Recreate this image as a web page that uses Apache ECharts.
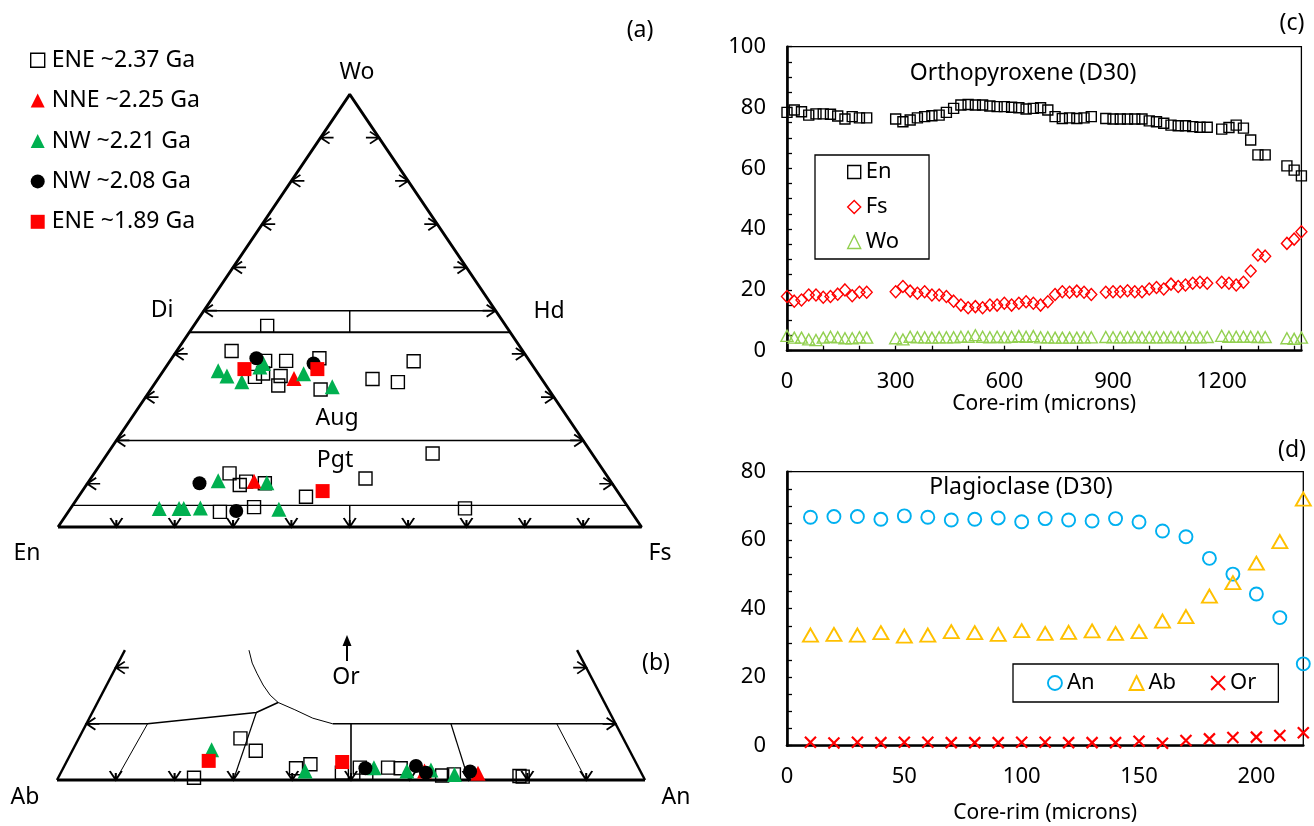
<!DOCTYPE html>
<html><head><meta charset="utf-8">
<script src="https://cdn.jsdelivr.net/npm/echarts@6/dist/echarts.min.js"></script>
<style>html,body{margin:0;padding:0;background:#fff}#c{width:1314px;height:826px}</style>
</head><body><div id="c"></div>
<script>
// ---------- Panel (a): pyroxene compositions, [Wo, Fs] mol% (En = 100 - Wo - Fs)
const pxENE237 = [[46.5,12.6],[40.7,9.4],[38.4,16.3],[38.4,19.9],[39.0,25.3],[34.7,16.4],[35.5,17.4],[34.9,20.7],[32.7,21.4],[31.8,29.1],[34.2,36.8],[33.5,41.5],[38.3,41.8],[17.0,55.7],[12.4,23.2],[9.7,26.3],[10.5,27.0],[10.1,30.4],[11.2,47.1],[7.0,39.0],[3.5,26.0],[4.6,31.3],[4.3,67.6]];
const pxNNE225 = [[34.3,23.3],[10.6,28.3]];
const pxNW221 = [[36.1,9.4],[34.9,11.5],[33.6,14.7],[37.0,16.1],[37.8,16.3],[35.4,24.4],[32.4,30.8],[10.7,22.1],[10.2,30.7],[4.3,15.2],[4.3,18.6],[4.3,19.4],[4.4,22.2],[4.1,35.8]];
const pxNW208 = [[39.0,14.5],[37.8,24.9],[10.1,19.2],[3.7,28.7]];
const pxENE189 = [[36.5,13.7],[36.5,26.2],[8.3,41.2]];

// ---------- Panel (b): feldspar compositions, [An, Or] mol% (Ab = 100 - An - Or)
const fsENE237 = [[27.5,7.4],[31.2,5.2],[23.1,0.4],[39.6,2.1],[41.7,2.8],[47.8,1.3],[50.4,2.2],[52.0,1.2],[55.2,2.2],[57.4,2.1],[65.1,0.8],[67.0,1.0],[78.3,0.7],[78.9,0.6]];
const fsNNE225 = [[61.7,1.6],[71.0,1.2]];
const fsNW221 = [[23.6,5.4],[41.4,1.6],[52.8,2.2],[58.7,1.6],[62.7,1.8],[67.1,1.0]];
const fsNW208 = [[51.4,2.1],[59.8,2.5],[62.1,1.3],[69.5,1.5]];
const fsENE189 = [[24.1,3.4],[46.9,3.2]];

const groupNames = ['ENE ~2.37 Ga','NNE ~2.25 Ga','NW ~2.21 Ga','NW ~2.08 Ga','ENE ~1.89 Ga'];

// ---------- Panel (c): orthopyroxene profile (D30)
const opxDist = [0,20,40,60,80,100,120,140,160,180,200,220,
  300,320,340,360,380,400,420,440,460,480,500,520,540,560,580,600,620,640,660,680,700,720,740,760,780,800,820,840,
  880,900,920,940,960,980,1000,1020,1040,1060,1080,1100,1120,1140,1160,
  1200,1220,1240,1260,1280,1300,1320,
  1380,1400,1420];
const opxEn = [78.4,79.2,78.6,77.5,77.9,77.9,77.8,77.2,76.2,77.0,76.6,76.6,
  76.2,75.3,75.9,76.6,77.0,77.3,77.5,78.4,79.7,80.8,81.0,80.8,80.8,80.5,80.3,80.3,80.1,79.9,79.5,79.7,79.9,79.2,77.0,76.4,76.6,76.4,76.6,77.0,
  76.4,76.2,76.2,76.2,76.2,76.2,75.6,75.3,74.8,74.2,74.0,74.0,73.7,73.5,73.5,
  72.9,73.4,74.2,73.2,69.3,64.4,64.4,
  60.8,59.4,57.5];
const opxFs = [17.8,16.3,16.7,18.3,18.3,17.6,17.8,18.6,20.0,18.1,19.2,19.2,
  19.4,21.1,19.6,18.9,19.4,18.3,18.3,17.8,16.3,15.0,14.1,14.5,14.1,15.0,15.0,15.6,15.0,15.6,16.1,15.6,15.0,16.1,18.5,19.4,19.2,19.6,19.2,18.5,
  19.2,19.4,19.4,19.7,19.4,19.4,20.3,20.8,20.3,21.9,21.1,21.6,22.2,22.5,22.2,
  22.5,22.2,21.6,22.5,26.2,31.5,31.1,
  35.3,36.7,39.1];
const opxWo = [4.9,4.3,4.3,3.7,3.5,4.3,4.6,4.4,4.1,4.1,4.4,4.3,
  4.1,3.7,4.6,4.4,4.4,4.3,4.4,4.4,4.4,4.6,4.6,5.1,4.6,4.4,4.6,4.4,4.6,4.8,4.6,4.8,4.4,4.4,4.3,4.3,4.3,4.3,4.4,4.4,
  4.5,4.4,4.4,4.4,4.5,4.4,4.4,4.4,4.4,4.5,4.4,4.4,4.4,4.4,4.5,
  4.9,4.6,4.6,4.6,4.6,4.5,4.5,
  4.1,3.9,4.3];

// ---------- Panel (d): plagioclase profile (D30)
const plDist = [10,20,30,40,50,60,70,80,90,100,110,120,130,140,150,160,170,180,190,200,210,220];
const plAn = [66.7,66.9,66.9,66.1,67.1,66.7,65.9,66.1,66.5,65.4,66.3,65.9,65.6,66.3,65.3,62.7,61.0,54.7,50.1,44.3,37.4,23.9];
const plAb = [32.3,32.5,32.3,33.0,32.0,32.3,33.3,33.0,32.5,33.6,32.8,33.1,33.5,32.8,33.3,36.4,37.7,43.7,47.6,53.3,59.6,72.0];
const plOr = [1.0,0.8,1.0,0.9,1.0,1.0,0.9,0.9,0.9,1.0,1.0,0.9,0.9,0.9,1.3,0.7,1.5,2.0,2.4,2.5,3.0,3.8];

// ---------- ternary frames (classification fields)
const pyxOutline = [[0,0],[0,100],[100,0],[0,0]];            // [Wo, Fs]
const pyxFields = [
  {pts:[[50,0],[50,50]], w:1.4},
  {pts:[[45,0],[45,55]], w:2.0},
  {pts:[[50,25],[45,27.5]], w:1.4},
  {pts:[[20,0],[20,80]], w:1.4},
  {pts:[[5,0],[5,95]], w:1.4},
  {pts:[[5,47.5],[0,50]], w:1.4}
];
const fspOutline = [ {pts:[[0,0],[100,0]], w:2.8}, {pts:[[0,0],[0,23.1]], w:2.4}, {pts:[[100,0],[76.9,23.1]], w:2.4} ]; // [An, Or]
const fspFields = [
  {pts:[[41.9,10],[90,10]], w:1.6},
  {pts:[[0,10],[10.4,10],[27.9,12.0],[30.7,13.8]], w:1.6},
  {pts:[[30.7,13.8],[28.7,15.1],[26.6,16.9],[24.5,19.0],[22.8,20.8],[21.1,23.1]], w:1.0},
  {pts:[[30.7,13.8],[34.2,12.5],[38.0,11.0],[41.9,10]], w:1.0},
  {pts:[[10.4,10],[10,0]], w:1.0},
  {pts:[[27.9,12.0],[30,0]], w:1.2},
  {pts:[[45,10],[50,0]], w:1.6},
  {pts:[[62,10],[70,0]], w:1.2},
  {pts:[[80,10],[90,0]], w:1.0}
];

const pyxXY = p => [p[1] + p[0] / 2, p[0]];
const fspXY = p => [p[0] + p[1] / 2, p[1]];

const FONT = '"Noto Sans","Open Sans",sans-serif';
const series = [];
function lineS(g, pts, w) {
  series.push({type:'line', xAxisIndex:g, yAxisIndex:g, data:pts, symbol:'none', silent:true, clip:false, z:1,
    animation:false, lineStyle:{color:'#000', width:w, opacity:1}});
}
function arrowS(g, pts, sym, size, off) {
  series.push({type:'scatter', xAxisIndex:g, yAxisIndex:g, data:pts, symbol:sym, symbolSize:size, symbolOffset:off,
    silent:true, clip:false, z:1, animation:false,
    itemStyle:{color:'rgba(0,0,0,0)', borderColor:'#000', borderWidth:1.8, opacity:1}});
}
const arrowV = 'path://M0,0L6,9L12,0M6,9L6,2';
const arrowL = 'path://M9,0L0,6L9,12M0,6L13,6';
const arrowR = 'path://M4,0L13,6L4,12M0,6L13,6';

// panel (a) frame
lineS(0, pyxOutline.map(pyxXY), 2.8);
pyxFields.forEach(f => lineS(0, f.pts.map(pyxXY), f.w));
const tens = [10,20,30,40,50,60,70,80,90];
arrowS(0, tens.map(f => pyxXY([0, f])), arrowV, [12, 9], [0, -4.5]);
arrowS(0, tens.map(w => pyxXY([w, 0])), arrowL, [13, 12], [6.5, 0]);
arrowS(0, tens.map(w => pyxXY([w, 100 - w])), arrowR, [13, 12], [-6.5, 0]);
// panel (b) frame
fspOutline.forEach(f => lineS(1, f.pts.map(fspXY), f.w));
fspFields.forEach(f => lineS(1, f.pts.map(fspXY), f.w));
arrowS(1, tens.map(a => fspXY([a, 0])), arrowV, [12, 9], [0, -4.5]);
arrowS(1, [10, 20].map(o => fspXY([0, o])), arrowL, [13, 12], [6.5, 0]);
arrowS(1, [10, 20].map(o => fspXY([100 - o, o])), arrowR, [13, 12], [-6.5, 0]);

// sample groups in (a) and (b)
const pyxGroups = [pxENE237, pxNNE225, pxNW221, pxNW208, pxENE189];
const fspGroups = [fsENE237, fsNNE225, fsNW221, fsNW208, fsENE189];
const groupStyle = [
  {symbol:'rect', size:13, item:{color:'rgba(0,0,0,0)', borderColor:'#000', borderWidth:1.4, opacity:1}},
  {symbol:'triangle', size:15, item:{color:'#FF0000', opacity:1}},
  {symbol:'triangle', size:15, item:{color:'#00B050', opacity:1}},
  {symbol:'circle', size:14, item:{color:'#000000', opacity:1}},
  {symbol:'rect', size:14, item:{color:'#FF0000', opacity:1}}
];
groupNames.forEach((nm, i) => {
  const st = groupStyle[i];
  series.push({type:'scatter', name:nm, xAxisIndex:0, yAxisIndex:0, data:pyxGroups[i].map(pyxXY),
    symbol:st.symbol, symbolSize:st.size, itemStyle:st.item, z:3 + i, animation:false, clip:false});
  series.push({type:'scatter', name:nm, xAxisIndex:1, yAxisIndex:1, data:fspGroups[i].map(fspXY),
    symbol:st.symbol, symbolSize:st.size, itemStyle:st.item, z:3 + i, animation:false, clip:false});
});

// panel (c)
const zipC = arr => opxDist.map((d, i) => [d, arr[i]]);
series.push({type:'scatter', name:'En', xAxisIndex:2, yAxisIndex:2, data:zipC(opxEn), symbol:'rect', symbolSize:10,
  itemStyle:{color:'rgba(0,0,0,0)', borderColor:'#000', borderWidth:1.4, opacity:1}, animation:false, z:3});
series.push({type:'scatter', name:'Fs', xAxisIndex:2, yAxisIndex:2, data:zipC(opxFs), symbol:'diamond', symbolSize:[11, 12],
  itemStyle:{color:'rgba(0,0,0,0)', borderColor:'#FF0000', borderWidth:1.4, opacity:1}, animation:false, z:3});
series.push({type:'scatter', name:'Wo', xAxisIndex:2, yAxisIndex:2, data:zipC(opxWo), symbol:'triangle', symbolSize:[12, 11],
  itemStyle:{color:'rgba(0,0,0,0)', borderColor:'#92D050', borderWidth:1.4, opacity:1}, animation:false, z:3});
// panel (d)
const zipD = arr => plDist.map((d, i) => [d, arr[i]]);
series.push({type:'scatter', name:'An', xAxisIndex:3, yAxisIndex:3, data:zipD(plAn), symbol:'circle', symbolSize:13,
  itemStyle:{color:'rgba(0,0,0,0)', borderColor:'#00B0F0', borderWidth:1.9, opacity:1}, animation:false, z:3});
series.push({type:'scatter', name:'Ab', xAxisIndex:3, yAxisIndex:3, data:zipD(plAb), symbol:'triangle', symbolSize:[15, 13],
  itemStyle:{color:'rgba(0,0,0,0)', borderColor:'#FFC000', borderWidth:1.9, opacity:1}, animation:false, z:3});
series.push({type:'scatter', name:'Or', xAxisIndex:3, yAxisIndex:3, data:zipD(plOr), symbol:'path://M0,0L10,10M10,0L0,10', symbolSize:11,
  itemStyle:{color:'rgba(0,0,0,0)', borderColor:'#FF0000', borderWidth:2.2, opacity:1}, animation:false, z:3});

const axisCommon = (extra) => Object.assign({
  type:'value', splitLine:{show:false},
  axisLine:{show:true, onZero:false, lineStyle:{color:'#000', width:2.6}},
  axisLabel:{color:'#000', fontSize:22, fontFamily:FONT},
  nameTextStyle:{color:'#000', fontSize:21, fontFamily:FONT}
}, extra);

const texts = [
  ['Wo',357,72,23],['Di',162,310,23],['Hd',549,311,23],['Aug',337,418,23],['Pgt',335,460,23],
  ['En',27,553,23],['Fs',660,553,23],['(a)',640,30,23],
  ['(b)',656,663,23],['Or',346,677,23],['Ab',25,797,23],['An',676,797,23],
  ['(c)',1292,23,23],['(d)',1292,450,23],
  ['Orthopyroxene (D30)',1023,73,23],['Plagioclase (D30)',1021,487,23]
];
const graphic = texts.map(t => ({type:'text', x:t[1], y:t[2], silent:true, z:10,
  style:{text:t[0], font:t[3] + 'px ' + FONT, fill:'#000', align:'center', verticalAlign:'middle', textAlign:'center', textVerticalAlign:'middle'}}));
graphic.push({type:'line', silent:true, shape:{x1:347, y1:661, x2:347, y2:644}, style:{stroke:'#000', lineWidth:2}});
graphic.push({type:'polygon', silent:true, shape:{points:[[342.5,646],[347,635],[351.5,646]]}, style:{fill:'#000'}});

const option = {
  animation:false,
  backgroundColor:'#fff',
  textStyle:{fontFamily:FONT, color:'#000'},
  grid:[
    {left:58, top:94.4, width:583.5, height:432.6, show:false},
    {left:57, top:639.5, width:588, height:140.5, show:false},
    {left:787, top:46.7, width:514.4, height:304, show:true, borderColor:'#000', borderWidth:1.3, containLabel:false},
    {left:787, top:471.7, width:516.3, height:274, show:true, borderColor:'#000', borderWidth:1.3, containLabel:false}
  ],
  xAxis:[
    {gridIndex:0, type:'value', min:0, max:100, show:false},
    {gridIndex:1, type:'value', min:0, max:100, show:false},
    axisCommon({gridIndex:2, min:0, max:1420, interval:100,
      axisTick:{show:true, inside:true, length:5, lineStyle:{color:'#000', width:1.3}},
      axisLabel:{color:'#000', fontSize:22, fontFamily:FONT, margin:20, formatter:v => (v % 300 === 0 ? String(v) : '')},
      name:'Core-rim (microns)', nameLocation:'middle', nameGap:38}),
    axisCommon({gridIndex:3, min:0, max:220, interval:50,
      axisTick:{show:false},
      axisLabel:{color:'#000', fontSize:22, fontFamily:FONT, margin:20, formatter:v => (v % 50 === 0 ? String(v) : '')},
      name:'Core-rim (microns)', nameLocation:'middle', nameGap:57})
  ],
  yAxis:[
    {gridIndex:0, type:'value', min:0, max:100, show:false},
    {gridIndex:1, type:'value', min:0, max:25, show:false},
    axisCommon({gridIndex:2, min:0, max:100, interval:20,
      axisTick:{show:true, inside:true, length:5, lineStyle:{color:'#000', width:1.3}},
      minorTick:{show:true, splitNumber:4, length:5, lineStyle:{color:'#000', width:1.3}},
      axisLabel:{color:'#000', fontSize:22, fontFamily:FONT, margin:21}}),
    axisCommon({gridIndex:3, min:0, max:80, interval:20,
      axisTick:{show:true, inside:true, length:5, lineStyle:{color:'#000', width:1.3}},
      minorTick:{show:true, splitNumber:4, length:5, lineStyle:{color:'#000', width:1.3}},
      axisLabel:{color:'#000', fontSize:22, fontFamily:FONT, margin:21}})
  ],
  legend:[
    {data:groupNames, orient:'vertical', left:30, top:48, padding:0, itemWidth:14, itemHeight:14, itemGap:16,
     itemStyle:{borderWidth:1.4}, selectedMode:false,
     textStyle:{fontSize:23, lineHeight:24.4, color:'#000', fontFamily:FONT, padding:[0,0,0,2]}},
    {data:['En','Fs','Wo'], orient:'vertical', left:815, top:155, padding:[6,30,6,32], itemWidth:13, itemHeight:13, itemGap:13,
     borderColor:'#000', borderWidth:1.3, itemStyle:{borderWidth:1.4}, selectedMode:false,
     textStyle:{fontSize:22, lineHeight:22, color:'#000', fontFamily:FONT}},
    {data:['An','Ab','Or'], orient:'horizontal', left:1013, top:664, padding:[8,22,8,34], itemWidth:14, itemHeight:14, itemGap:34,
     borderColor:'#000', borderWidth:1.3, itemStyle:{borderWidth:1.9}, selectedMode:false,
     textStyle:{fontSize:22, lineHeight:22, color:'#000', fontFamily:FONT}}
  ],
  graphic:graphic,
  series:series
};
const chart = echarts.init(document.getElementById('c'), null, {renderer:'canvas'});
chart.setOption(option);
</script></body></html>
